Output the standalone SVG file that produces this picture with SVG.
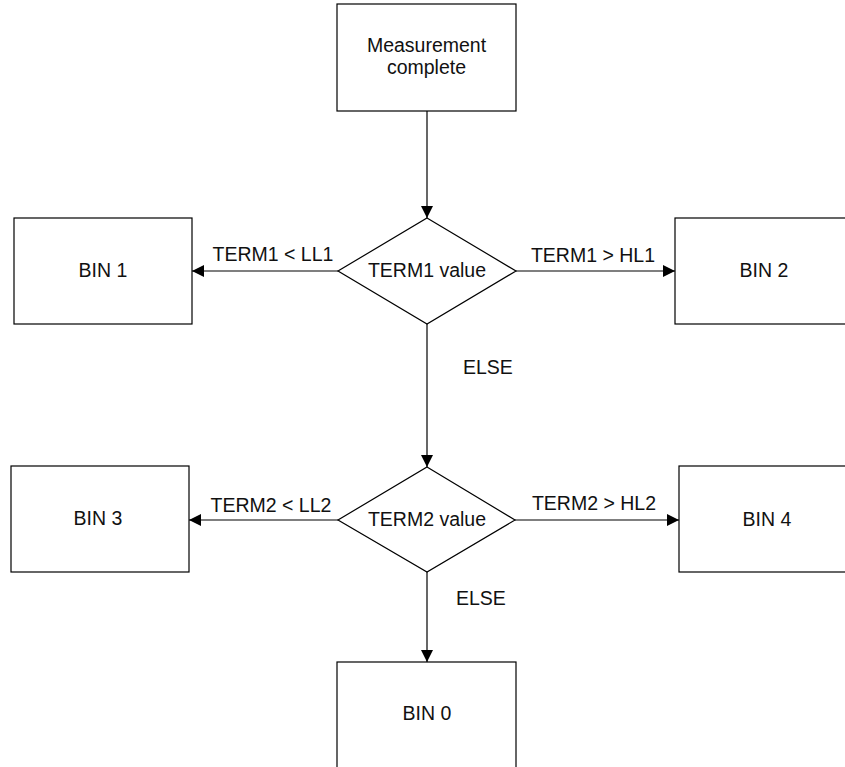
<svg xmlns="http://www.w3.org/2000/svg" width="845" height="767" viewBox="0 0 845 767">
  <defs>
    <marker id="arrow" markerUnits="userSpaceOnUse" markerWidth="12" markerHeight="12" refX="12" refY="6" orient="auto">
      <path d="M0,0 L12,6 L0,12 z" fill="#000"/>
    </marker>
    <style>
      .box { fill: #fff; stroke: #000; stroke-width: 1.2; }
      .lbl { font-family: "Liberation Sans", Arial, Helvetica, sans-serif; font-size: 19.5px; fill: #111; }
      .c { text-anchor: middle; }
      .edge { stroke: #000; stroke-width: 1.2; fill: none; marker-end: url(#arrow); }
    </style>
  </defs>
  <rect width="845" height="767" fill="#fff"/>

  <g id="connectors">
    <line class="edge" x1="427" y1="111" x2="427" y2="218"/>
    <line class="edge" x1="338" y1="271" x2="192" y2="271"/>
    <line class="edge" x1="516" y1="271" x2="675" y2="271"/>
    <line class="edge" x1="427" y1="324" x2="427" y2="467"/>
    <line class="edge" x1="338" y1="520" x2="189" y2="520"/>
    <line class="edge" x1="515" y1="520" x2="679" y2="520"/>
    <line class="edge" x1="427" y1="572" x2="427" y2="662"/>
    <text class="lbl c" x="273" y="261">TERM1 &lt; LL1</text>
    <text class="lbl c" x="593" y="262">TERM1 &gt; HL1</text>
    <text class="lbl" x="463" y="374">ELSE</text>
    <text class="lbl c" x="271" y="512">TERM2 &lt; LL2</text>
    <text class="lbl c" x="594" y="510">TERM2 &gt; HL2</text>
    <text class="lbl" x="456" y="605">ELSE</text>
  </g>

  <g id="measurement">
    <rect class="box" x="337" y="4" width="179" height="107"/>
    <text class="lbl c" x="426.5" y="52">Measurement</text>
    <text class="lbl c" x="426.5" y="74">complete</text>
  </g>

  <g id="term1">
    <polygon class="box" points="427,218 516,271 427,324 338,271"/>
    <text class="lbl c" x="427" y="277">TERM1 value</text>
  </g>

  <g id="bin1">
    <rect class="box" x="14" y="218" width="178" height="106"/>
    <text class="lbl c" x="103" y="277">BIN 1</text>
  </g>

  <g id="bin2">
    <rect class="box" x="675" y="218" width="178" height="106"/>
    <text class="lbl c" x="764" y="277">BIN 2</text>
  </g>

  <g id="term2">
    <polygon class="box" points="427,467 515,520 427,572 338,520"/>
    <text class="lbl c" x="427" y="526">TERM2 value</text>
  </g>

  <g id="bin3">
    <rect class="box" x="11" y="466" width="178" height="106"/>
    <text class="lbl c" x="98" y="525">BIN 3</text>
  </g>

  <g id="bin4">
    <rect class="box" x="679" y="466" width="178" height="106"/>
    <text class="lbl c" x="767" y="526">BIN 4</text>
  </g>

  <g id="bin0">
    <rect class="box" x="337" y="662" width="179" height="106"/>
    <text class="lbl c" x="427" y="720">BIN 0</text>
  </g>
</svg>
